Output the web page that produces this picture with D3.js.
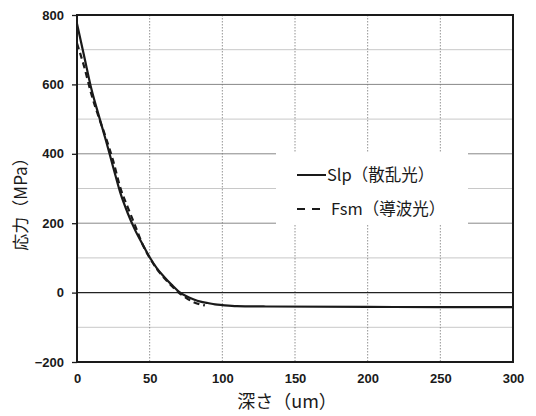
<!DOCTYPE html>
<html>
<head>
<meta charset="utf-8">
<script src="https://cdn.jsdelivr.net/npm/d3@7"></script>
<style>
  body { margin: 0; background: #fff; }
  svg { display: block; }
</style>
</head>
<body>
<svg id="chart" width="536" height="416"></svg>
<script>
// depth (um) / stress (MPa)
const slpDepth  = [0, 5, 10, 15, 20, 25, 30, 35, 40, 45, 50, 55, 60, 65, 70, 75, 80, 85, 90, 95, 100, 110, 130, 200, 250, 300];
const slpStress = [775, 680, 585, 510, 437, 360, 285, 228, 180, 140, 102, 70, 45, 23, 3, -10, -19, -26, -30, -34, -36, -39, -40, -41, -42, -42];
const fsmDepth  = [0, 5, 10, 15, 20, 25, 30, 35, 40, 45, 50, 55, 60, 65, 70, 75, 80, 85, 88];
const fsmStress = [718, 650, 570, 505, 445, 378, 300, 245, 193, 140, 100, 68, 42, 20, 0, -15, -27, -34, -37];
const xTicks = [0, 50, 100, 150, 200, 250, 300];
const yMajor = [-200, 0, 200, 400, 600, 800];
const yMinor = [-100, 100, 300, 500, 700];
const legendItems = ['Slp（散乱光）', 'Fsm（導波光）'];

const svg = d3.select('#chart');
const L = 77, R = 513, T = 15, B = 362;
const x = d3.scaleLinear().domain([0, 300]).range([L, R]);
const y = d3.scaleLinear().domain([-200, 800]).range([B, T]);
const cjk = '"Noto Sans CJK JP", sans-serif';
const num = '"Liberation Sans", Arial, sans-serif';

// grid
svg.append('g').selectAll('line').data(yMinor).join('line')
  .attr('x1', L).attr('x2', R).attr('y1', d => y(d)).attr('y2', d => y(d))
  .attr('stroke', '#c8c8c8').attr('stroke-width', 1);
svg.append('g').selectAll('line').data(yMajor.filter(d => d !== 0 && d !== 800 && d !== -200)).join('line')
  .attr('x1', L).attr('x2', R).attr('y1', d => y(d)).attr('y2', d => y(d))
  .attr('stroke', '#888').attr('stroke-width', 1);
svg.append('g').selectAll('line').data(xTicks.slice(1, -1)).join('line')
  .attr('x1', d => x(d)).attr('x2', d => x(d)).attr('y1', T).attr('y2', B)
  .attr('stroke', '#777').attr('stroke-width', 0.8).attr('stroke-dasharray', '1.5,1.5');
svg.append('line').attr('x1', L).attr('x2', R).attr('y1', y(0)).attr('y2', y(0))
  .attr('stroke', '#222').attr('stroke-width', 1.3);

// legend box (white, hides the grid)
svg.append('rect').attr('x', 276).attr('y', 152).attr('width', 192).attr('height', 72).attr('fill', '#fff');

// curves
const line = d3.line().curve(d3.curveMonotoneX);
svg.append('path')
  .attr('d', line(slpDepth.map((d, i) => [x(d), y(slpStress[i])])))
  .attr('fill', 'none').attr('stroke', '#1a1a1a').attr('stroke-width', 2.2);
svg.append('path')
  .attr('d', line(fsmDepth.map((d, i) => [x(d), y(fsmStress[i])])))
  .attr('fill', 'none').attr('stroke', '#1a1a1a').attr('stroke-width', 2.2)
  .attr('stroke-dasharray', '6,4');

// frame
svg.append('rect').attr('x', L).attr('y', T).attr('width', R - L).attr('height', B - T)
  .attr('fill', 'none').attr('stroke', '#1a1a1a').attr('stroke-width', 2);

// axes
const yAxis = svg.append('g').attr('transform', `translate(${L},0)`)
  .call(d3.axisLeft(y).tickValues(yMajor).tickSize(5).tickPadding(8)
    .tickFormat(d => d < 0 ? '\u2212' + Math.abs(d) : d));
const xAxis = svg.append('g').attr('transform', `translate(0,${B})`)
  .call(d3.axisBottom(x).tickValues(xTicks).tickSize(0).tickPadding(12));
[yAxis, xAxis].forEach(a => {
  a.select('.domain').remove();
  a.selectAll('line').attr('stroke', '#1a1a1a').attr('stroke-width', 1.3);
  a.selectAll('text').attr('font-family', num).attr('font-weight', 'bold')
    .attr('font-size', 13).attr('fill', '#1a1a1a');
});

// axis titles
svg.append('text').attr('x', 287).attr('y', 408).attr('text-anchor', 'middle')
  .attr('font-family', cjk).attr('font-size', 18).attr('fill', '#1a1a1a').text('深さ（um）');
svg.append('text').attr('transform', 'translate(27,200) rotate(-90)').attr('text-anchor', 'middle')
  .attr('font-family', cjk).attr('font-size', 17).attr('fill', '#1a1a1a').text('応力（MPa）');

// legend
const lg = svg.append('g');
legendItems.forEach((t, i) => {
  const ly = 175 + i * 34;
  lg.append('line').attr('x1', 297).attr('x2', 326).attr('y1', ly).attr('y2', ly)
    .attr('stroke', '#1a1a1a').attr('stroke-width', 2)
    .attr('stroke-dasharray', i === 1 ? '8,7' : null);
  lg.append('text').attr('x', i === 0 ? 327 : 331).attr('y', ly + 6)
    .attr('font-family', cjk).attr('font-size', 16.5).attr('fill', '#1a1a1a').text(t);
});
</script>
</body>
</html>
